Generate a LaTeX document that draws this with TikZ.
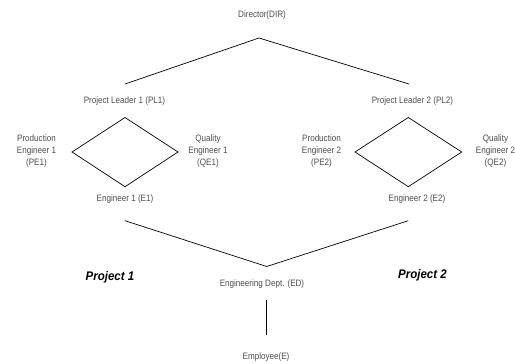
\documentclass[tikz,border=0pt]{standalone}
\usepackage{fontspec}
\setmainfont{Liberation Sans}
\newfontfamily\lblfont[FakeStretch=0.87]{Liberation Sans}
\newfontfamily\projfont[FakeStretch=0.92]{Liberation Sans}
\begin{document}
\begin{tikzpicture}[x=1pt,y=-1pt,
  lbl/.style={inner sep=0pt,text=black!70,font=\lblfont\fontsize{9.3}{12}\selectfont,align=center},
  proj/.style={inner sep=0pt,font=\projfont\fontsize{12.5}{14}\selectfont\bfseries\itshape},
  conn/.style={draw=black,line width=0.7pt,line join=miter}]
\useasboundingbox (0,0) rectangle (515,364);
% labels
\node[lbl] (dir) at (262,15.5) {Director(DIR)};
\node[lbl] (pl1) at (124.5,100.7) {Project Leader 1 (PL1)};
\node[lbl] (pl2) at (412.5,100.7) {Project Leader 2 (PL2)};
\node[lbl] (pe1) at (36.5,151.5) {Production\\Engineer 1\\(PE1)};
\node[lbl] (qe1) at (208,151.5) {Quality\\Engineer 1\\(QE1)};
\node[lbl] (e1) at (125,199) {Engineer 1 (E1)};
\node[lbl] (pe2) at (321.5,151.5) {Production\\Engineer 2\\(PE2)};
\node[lbl] (qe2) at (495.5,151.5) {Quality\\Engineer 2\\(QE2)};
\node[lbl] (e2) at (417,199) {Engineer 2 (E2)};
\node[lbl] (ed) at (262,284) {Engineering Dept. (ED)};
\node[lbl] (emp) at (266,357.5) {Employee(E)};
\node[proj] (p1) at (110,277.5) {Project 1};
\node[proj] (p2) at (422.5,275) {Project 2};
% connector points
\coordinate (dirapex) at (259,38);
\coordinate (pl1a) at (125,84);
\coordinate (pl2a) at (409,84);
\coordinate (d1t) at (125,117.5);
\coordinate (d1l) at (72,152);
\coordinate (d1r) at (178,152);
\coordinate (d1b) at (125,186.7);
\coordinate (d2t) at (408.3,117.5);
\coordinate (d2l) at (355,152);
\coordinate (d2r) at (461.7,152);
\coordinate (d2b) at (408.3,186.7);
\coordinate (e1a) at (125,220.7);
\coordinate (e2a) at (408.3,220.7);
\coordinate (edapex) at (266.7,266.5);
\coordinate (edb) at (266.7,300);
\coordinate (empt) at (266.7,335);
% connectors
\draw[conn] (pl1a) -- (dirapex) -- (pl2a);
\draw[conn] (d1t) -- (d1r) -- (d1b) -- (d1l) -- cycle;
\draw[conn] (d2t) -- (d2r) -- (d2b) -- (d2l) -- cycle;
\draw[conn] (e1a) -- (edapex) -- (e2a);
\draw[conn] (edb) -- (empt);
\end{tikzpicture}
\end{document}
